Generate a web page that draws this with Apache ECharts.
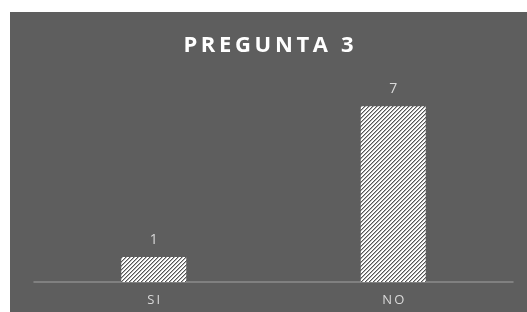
<!DOCTYPE html>
<html>
<head>
<meta charset="utf-8">
<script src="https://cdn.jsdelivr.net/npm/echarts@6/dist/echarts.min.js"></script>
<style>
  html, body { margin: 0; padding: 0; background: #ffffff; }
  #chart { position: absolute; left: 10px; top: 12px; width: 517px; height: 300px; background: #5e5e5e; }
</style>
</head>
<body>
<div id="chart"></div>
<script>
// datos
const categories = ['SI', 'NO']
const values = [1, 7]
const titleText = 'PREGUNTA 3'

// trama rayada de las barras
function hatch() {
  const n = 4
  const c = document.createElement('canvas')
  c.width = n
  c.height = n
  const ctx = c.getContext('2d')
  ctx.fillStyle = '#ffffff'
  ctx.fillRect(0, 0, n, n)
  for (let x = 0; x < n; x++) {
    for (let y = 0; y < n; y++) {
      const k = (x + y) % n
      if (k === 0) { ctx.fillStyle = '#555555'; ctx.fillRect(x, y, 1, 1) }
      else if (k === 1) { ctx.fillStyle = '#b0b0b0'; ctx.fillRect(x, y, 1, 1) }
    }
  }
  return c
}

const spaced = s => s.split('').join('\u2009')

var myChart = echarts.init(document.getElementById('chart'))
myChart.setOption({
  animation: false,
  title: {
    text: spaced(titleText),
    left: 'center',
    top: 18,
    textStyle: {
      color: '#ffffff',
      fontSize: 22,
      fontWeight: 'bold',
      fontFamily: 'Open Sans'
    }
  },
  grid: { left: 24, right: 14, top: 69, bottom: 30 },
  xAxis: {
    type: 'category',
    data: categories,
    axisLine: { lineStyle: { color: '#8c8c8c', width: 1.5 } },
    axisTick: { show: false },
    axisLabel: {
      color: '#d9d9d9',
      fontSize: 13,
      fontFamily: 'Open Sans',
      margin: 12,
      formatter: v => spaced(v)
    }
  },
  yAxis: {
    type: 'value',
    min: 0,
    max: 8,
    show: false,
    splitLine: { show: false }
  },
  series: [
    {
      type: 'bar',
      data: values,
      barWidth: 65,
      itemStyle: { color: { image: hatch(), repeat: 'repeat' } },
      label: {
        show: true,
        position: 'top',
        distance: 10,
        color: '#d9d9d9',
        fontSize: 14,
        fontFamily: 'Open Sans'
      }
    }
  ]
})
</script>
</body>
</html>
